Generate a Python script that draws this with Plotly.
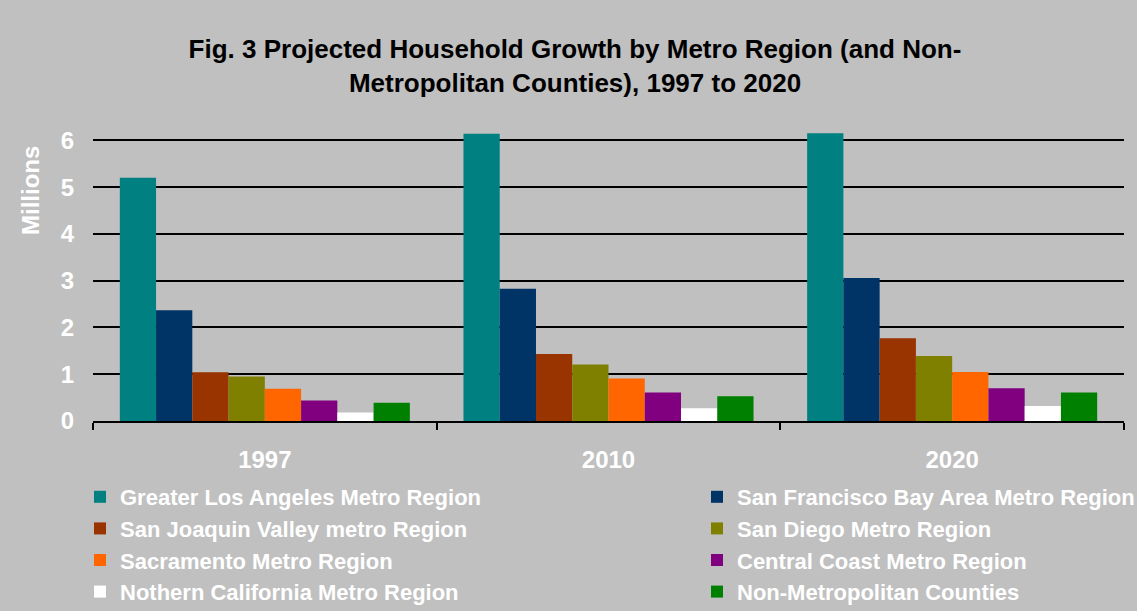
import plotly.graph_objects as go

years = ["1997", "2010", "2020"]
series_names = [
    "Greater Los Angeles Metro Region",
    "San Francisco Bay Area Metro Region",
    "San Joaquin Valley metro Region",
    "San Diego Metro Region",
    "Sacramento Metro Region",
    "Central Coast Metro Region",
    "Nothern California Metro Region",
    "Non-Metropolitan Counties",
]
la = [5.20, 6.14, 6.15]
sf = [2.37, 2.83, 3.06]
sj = [1.04, 1.43, 1.77]
sd = [0.95, 1.21, 1.39]
sac = [0.69, 0.91, 1.05]
cc = [0.44, 0.61, 0.70]
nc = [0.18, 0.27, 0.32]
nm = [0.39, 0.53, 0.61]
series_values = [la, sf, sj, sd, sac, cc, nc, nm]
colors = ["#008080", "#003366", "#993300", "#808000",
          "#FF6600", "#800080", "#FFFFFF", "#008000"]
legend_ids = ["legend", "legend2", "legend", "legend2",
              "legend", "legend2", "legend", "legend2"]
y_ticks = [0, 1, 2, 3, 4, 5, 6]

FONT = "Liberation Sans, Arial, sans-serif"
W, H = 1143, 611
ML, MR, MT, MB = 93, 19, 124, 190

fig = go.Figure()
for i, (name, vals, col, lg) in enumerate(zip(series_names, series_values, colors, legend_ids)):
    fig.add_trace(go.Bar(
        x=years, y=vals, name=name,
        marker=dict(color=col, line=dict(width=0)),
        legend=lg, legendgroup=name,
    ))

legend_font = dict(family=FONT, size=22, color="white", weight="bold")
fig.update_layout(
    width=W, height=H,
    margin=dict(l=ML, r=MR, t=MT, b=MB, autoexpand=False),
    paper_bgcolor="#C0C0C0",
    plot_bgcolor="#C0C0C0",
    barmode="group",
    bargap=0.156,
    bargroupgap=0,
    title=dict(
        text="Fig. 3 Projected Household Growth by Metro Region (and Non-<br>Metropolitan Counties), 1997 to 2020",
        font=dict(family=FONT, size=26, color="black", weight="bold"),
        x=575 / W, xref="container", xanchor="center",
        y=1 - 58 / H, yref="container", yanchor="middle",
    ),
    xaxis=dict(
        type="category",
        showline=True, linecolor="black", linewidth=2,
        ticks="outside", tickson="boundaries", ticklen=7,
        tickcolor="black", tickwidth=2,
        tickfont=dict(family=FONT, size=24, color="white", weight="bold"),
        ticklabelstandoff=16,
        showgrid=False,
    ),
    yaxis=dict(
        range=[0, 6.35],
        tickvals=y_ticks,
        showgrid=True, gridcolor="black", gridwidth=2,
        zeroline=False, showline=False, ticks="",
        tickfont=dict(family=FONT, size=24, color="white", weight="bold"),
        ticklabelstandoff=18,
    ),
    legend=dict(
        xref="container", yref="container",
        x=80 / W, y=1 - 476 / H, xanchor="left", yanchor="top",
        orientation="v", bgcolor="rgba(0,0,0,0)",
        font=legend_font, tracegroupgap=1, traceorder="normal",
    ),
    legend2=dict(
        xref="container", yref="container",
        x=697 / W, y=1 - 476 / H, xanchor="left", yanchor="top",
        orientation="v", bgcolor="rgba(0,0,0,0)",
        font=legend_font, tracegroupgap=1, traceorder="normal",
    ),
    annotations=[dict(
        text="Millions", textangle=-90,
        xref="paper", yref="paper",
        x=(30 - ML) / (W - ML - MR), y=(421 - 191) / (421 - MT),
        xanchor="center", yanchor="middle", showarrow=False,
        font=dict(family=FONT, size=24, color="white", weight="bold"),
    )],
    shapes=[dict(
        type="rect", xref="paper", yref="paper", layer="below",
        x0=(1137 - ML) / (W - ML - MR), x1=(W - ML) / (W - ML - MR),
        y0=(421 - H) / (421 - MT), y1=421 / (421 - MT),
        fillcolor="white", line=dict(width=0),
    )],
    showlegend=True,
)

fig.write_html("out.html")
